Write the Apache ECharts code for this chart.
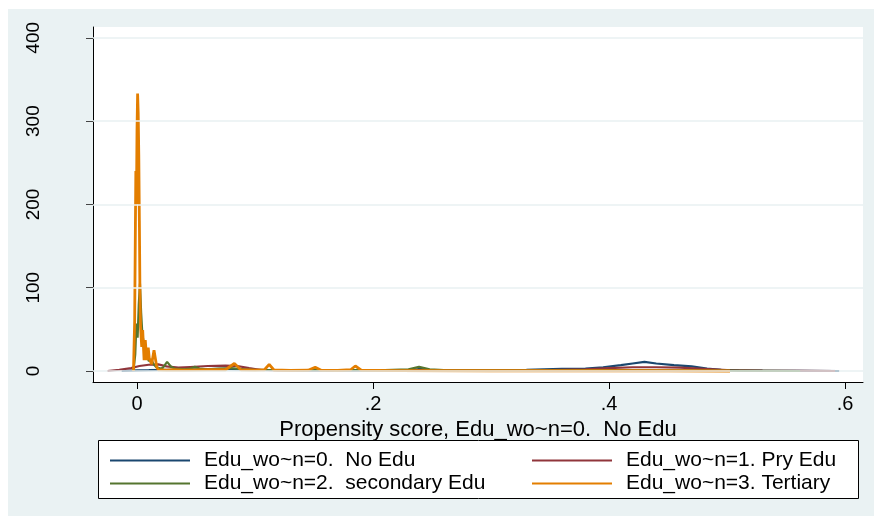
<!DOCTYPE html>
<html>
<head>
<meta charset="utf-8">
<script src="https://cdn.jsdelivr.net/npm/echarts@6/dist/echarts.min.js"></script>
<style>html,body{margin:0;padding:0;background:#fff}#c{width:874px;height:516px}</style>
</head>
<body>
<div id="c"></div>
<script>
const seriesNames = ['Edu_wo~n=0.  No Edu', 'Edu_wo~n=1. Pry Edu', 'Edu_wo~n=2.  secondary Edu', 'Edu_wo~n=3. Tertiary'];
const seriesColors = ['#1a476f', '#90353b', '#55752f', '#e37e00'];
const xTickValues = [0, 0.2, 0.4, 0.6];
const xTickLabels = ['0', '.2', '.4', '.6'];
const yTickValues = [0, 100, 200, 300, 400];
const xTitle = 'Propensity score, Edu_wo~n=0.  No Edu';

// Navy: No Edu
const noEduX = [-0.013, 0.0, 0.01, 0.03, 0.05, 0.07, 0.09, 0.11, 0.14, 0.18, 0.22, 0.235, 0.24, 0.245, 0.26, 0.30, 0.33, 0.36, 0.38, 0.395, 0.41, 0.42, 0.43, 0.44, 0.455, 0.47, 0.483, 0.495, 0.51, 0.53, 0.56, 0.595];
const noEduY = [0, 0.8, 1.0, 1.5, 2.0, 2.5, 2.0, 1.2, 0.8, 0.8, 1.0, 1.5, 2.5, 1.5, 1.0, 0.8, 1.5, 2.5, 3.0, 4.5, 7, 9, 11, 9, 7, 5.5, 3, 1.5, 0.8, 0.4, 0.2, 0];
// Maroon: Pry Edu
const pryEduX = [-0.025, -0.015, -0.005, 0.002, 0.01, 0.018, 0.025, 0.035, 0.045, 0.06, 0.075, 0.085, 0.095, 0.105, 0.12, 0.16, 0.19, 0.22, 0.26, 0.30, 0.35, 0.38, 0.40, 0.42, 0.44, 0.46, 0.48, 0.50, 0.53, 0.56, 0.5915];
const pryEduY = [0, 1.5, 3.5, 6, 7.5, 8, 5.5, 4, 4.8, 6, 6.5, 6, 3.5, 1.2, 0.8, 1.0, 1.0, 0.8, 0.8, 0.8, 1.2, 2, 3.5, 4.5, 4.5, 4, 2.5, 1, 0.5, 0.3, 0];
// Green: secondary Edu
const secEduX = [-0.003, -0.0015, -0.0005, 0.0005, 0.0015, 0.0025, 0.0035, 0.0045, 0.006, 0.008, 0.010, 0.012, 0.014, 0.016, 0.018, 0.020, 0.022, 0.024, 0.0255, 0.027, 0.029, 0.032, 0.036, 0.04, 0.045, 0.049, 0.053, 0.06, 0.07, 0.08, 0.09, 0.10, 0.12, 0.15, 0.18, 0.21, 0.23, 0.239, 0.248, 0.26, 0.30, 0.35, 0.40, 0.45, 0.50, 0.562];
const secEduY = [0, 20, 57, 40, 80, 105, 70, 45, 30, 20, 12, 14, 8, 5, 4, 3, 4, 8, 11, 9, 5, 3, 2.5, 2, 3, 5, 3, 2, 3, 3.5, 2, 1.5, 1.2, 1.0, 1.2, 1.0, 2, 5, 2, 1, 0.8, 0.8, 1.0, 0.8, 0.5, 0];
// Orange: Tertiary
const terEduX = [-0.003, -0.002, -0.0015, -0.001, -0.0005, 0.0, 0.0005, 0.001, 0.0015, 0.002, 0.0025, 0.003, 0.004, 0.0048, 0.006, 0.007, 0.0082, 0.0095, 0.0104, 0.0124, 0.0144, 0.0155, 0.0167, 0.018, 0.025, 0.03, 0.04, 0.06, 0.075, 0.0825, 0.088, 0.10, 0.108, 0.112, 0.116, 0.13, 0.145, 0.151, 0.156, 0.17, 0.181, 0.185, 0.19, 0.22, 0.30, 0.40, 0.45, 0.5025];
const terEduY = [0, 60, 150, 240, 200, 290, 333, 310, 260, 180, 93, 53, 29, 49, 13, 37, 13, 28, 15, 8, 25, 27, 5, 1.5, 1.0, 1.5, 1.0, 1.5, 1.5, 9, 1.5, 1, 1.5, 8, 1.2, 0.8, 1, 4.5, 1, 0.8, 1.5, 6, 1, 0.5, 0.3, 0.3, 0.3, 0];

const xs = [noEduX, pryEduX, secEduX, terEduX];
const ys = [noEduY, pryEduY, secEduY, terEduY];

const FONT = 'Liberation Sans, Arial, sans-serif';
const chart = echarts.init(document.getElementById('c'), null, {renderer: 'canvas'});

const lineSeries = seriesNames.map((name, i) => ({
  name: name,
  type: 'line',
  data: xs[i].map((x, j) => [x, ys[i][j]]),
  showSymbol: false,
  symbol: 'none',
  lineStyle: {color: seriesColors[i], width: i === 3 ? 2.8 : 2.2},
  itemStyle: {color: seriesColors[i]},
  z: 3,
  animation: false
}));

const gridLineSeries = {
  type: 'line',
  data: [[0, 0]],
  showSymbol: false,
  symbol: 'none',
  lineStyle: {opacity: 0},
  z: 1,
  silent: true,
  animation: false,
  markLine: {
    silent: true,
    symbol: 'none',
    label: {show: false},
    lineStyle: {color: '#e8f0f2', width: 1.5, type: 'solid'},
    data: yTickValues.map(v => ({yAxis: v})),
    animation: false
  }
};

const legendCommon = {
  orient: 'vertical',
  top: 450,
  padding: 0,
  itemGap: 2,
  itemWidth: 80,
  itemHeight: 2,
  icon: 'rect',
  textStyle: {fontFamily: FONT, fontSize: 21, color: '#000', padding: [0, 0, 0, 9]},
  selectedMode: false
};

chart.setOption({
  animation: false,
  graphic: [
    {type: 'rect', z: -10, silent: true, shape: {x: 8, y: 9, width: 866, height: 507}, style: {fill: '#eaf2f3'}},
    {type: 'rect', z: -5, silent: true, shape: {x: 98.5, y: 440.5, width: 760, height: 58}, style: {fill: '#fff', stroke: '#000', lineWidth: 1}}
  ],
  grid: {left: 93, right: 11, top: 27, bottom: 134, show: true, backgroundColor: '#fff', borderWidth: 0},
  xAxis: {
    type: 'value',
    min: -0.0373,
    max: 0.6152,
    name: xTitle,
    nameLocation: 'middle',
    nameGap: 28,
    nameTextStyle: {fontFamily: FONT, fontSize: 22, color: '#000'},
    axisLine: {show: true, onZero: false, lineStyle: {color: '#000', width: 1}},
    axisTick: {show: true, length: 7, customValues: xTickValues, lineStyle: {color: '#000'}},
    axisLabel: {
      show: true, margin: 12, customValues: xTickValues,
      fontFamily: FONT, fontSize: 20, color: '#000',
      formatter: v => { const k = xTickValues.findIndex(t => Math.abs(t - v) < 1e-9); return k >= 0 ? xTickLabels[k] : ''; }
    },
    splitLine: {show: false}
  },
  yAxis: {
    type: 'value',
    min: -13.2,
    max: 413,
    axisLine: {show: true, onZero: false, lineStyle: {color: '#000', width: 1}},
    axisTick: {show: true, length: 7, customValues: yTickValues, lineStyle: {color: '#444'}},
    axisLabel: {
      show: true, rotate: 90, margin: 50, customValues: yTickValues,
      fontFamily: FONT, fontSize: 19, color: '#000'
    },
    splitLine: {show: false}
  },
  legend: [
    Object.assign({}, legendCommon, {left: 110, data: [seriesNames[0], seriesNames[2]]}),
    Object.assign({}, legendCommon, {left: 532, data: [seriesNames[1], seriesNames[3]]})
  ],
  series: [gridLineSeries].concat(lineSeries)
});
</script>
</body>
</html>
